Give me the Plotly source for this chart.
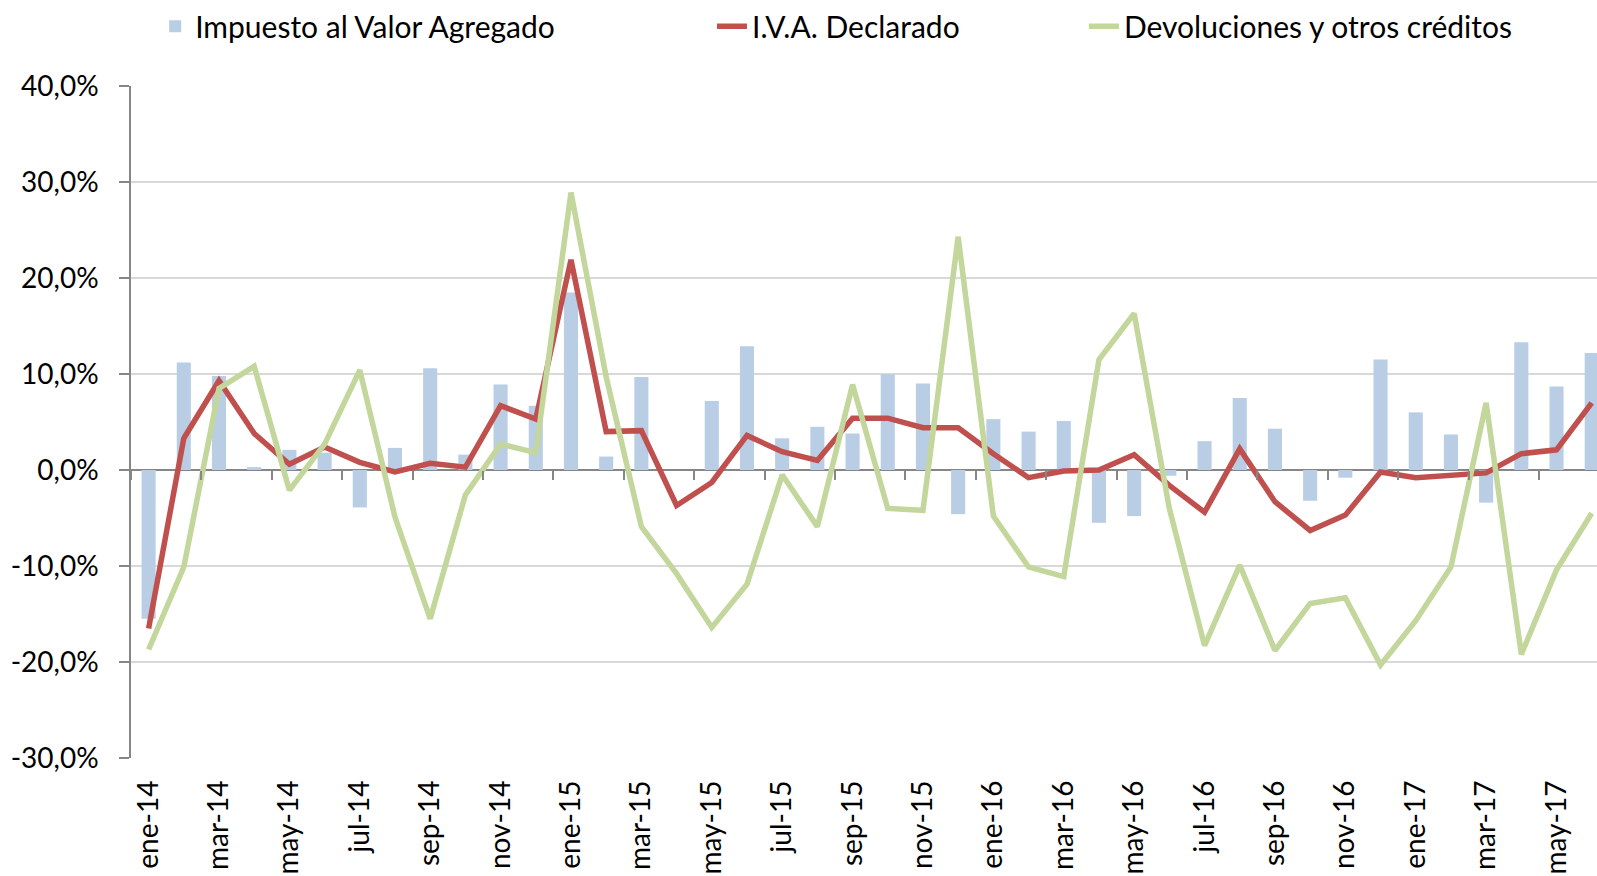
import plotly.graph_objects as go

meses = [
    "ene-14", "feb-14", "mar-14", "abr-14", "may-14", "jun-14", "jul-14", "ago-14", "sep-14", "oct-14", "nov-14", "dic-14",
    "ene-15", "feb-15", "mar-15", "abr-15", "may-15", "jun-15", "jul-15", "ago-15", "sep-15", "oct-15", "nov-15", "dic-15",
    "ene-16", "feb-16", "mar-16", "abr-16", "may-16", "jun-16", "jul-16", "ago-16", "sep-16", "oct-16", "nov-16", "dic-16",
    "ene-17", "feb-17", "mar-17", "abr-17", "may-17", "jun-17",
]

iva_total = [
    -15.5, 11.2, 9.8, 0.3, 2.1, 1.8, -3.9, 2.3, 10.6, 1.6, 8.9, 6.7,
    18.5, 1.4, 9.7, 0.0, 7.2, 12.9, 3.3, 4.5, 3.8, 10.0, 9.0, -4.6,
    5.3, 4.0, 5.1, -5.5, -4.8, -0.6, 3.0, 7.5, 4.3, -3.2, -0.8, 11.5,
    6.0, 3.7, -3.4, 13.3, 8.7, 12.2,
]

iva_declarado = [
    -16.5, 3.3, 9.3, 3.8, 0.6, 2.4, 0.8, -0.2, 0.7, 0.3, 6.7, 5.3,
    21.9, 4.0, 4.1, -3.7, -1.3, 3.6, 1.9, 1.0, 5.4, 5.4, 4.4, 4.4,
    1.7, -0.8, -0.1, 0.0, 1.6, -1.6, -4.4, 2.2, -3.3, -6.3, -4.7, -0.2,
    -0.8, -0.5, -0.3, 1.7, 2.1, 7.0,
]

devoluciones = [
    -18.7, -10.1, 8.5, 10.8, -2.1, 2.7, 10.4, -4.9, -15.5, -2.6, 2.7, 1.8,
    28.9, 9.7, -5.9, -10.8, -16.4, -11.9, -0.5, -5.9, 8.9, -4.0, -4.2, 24.3,
    -4.8, -10.1, -11.1, 11.5, 16.3, -4.0, -18.3, -9.9, -18.8, -13.9, -13.3, -20.3,
    -15.7, -10.1, 7.0, -19.2, -10.4, -4.5,
]

y_tick_vals = [-30, -20, -10, 0, 10, 20, 30, 40]
y_tick_text = ["-30,0%", "-20,0%", "-10,0%", "0,0%", "10,0%", "20,0%", "30,0%", "40,0%"]

FONT = "Lato, Carlito, Calibri, sans-serif"
GRAY = "#868686"

fig = go.Figure()

fig.add_trace(go.Bar(
    x=meses, y=iva_total, name="Impuesto al Valor Agregado",
    marker=dict(color="#B9CDE5", line=dict(width=0)),
    xaxis="x", yaxis="y", legend="legend", showlegend=True,
))
fig.add_trace(go.Scatter(
    x=meses, y=iva_declarado, name="I.V.A. Declarado", mode="lines",
    line=dict(color="#C0504D", width=5.5),
    xaxis="x2", yaxis="y", legend="legend2", showlegend=True,
))
fig.add_trace(go.Scatter(
    x=meses, y=devoluciones, name="Devoluciones y otros créditos", mode="lines",
    line=dict(color="#C3D69B", width=5.5),
    xaxis="x2", yaxis="y", legend="legend3", showlegend=True,
))

xrange = [-0.5, 41.15]
legend_common = dict(
    orientation="h", yanchor="middle", y=1.089, xanchor="left",
    font=dict(family=FONT, size=30, color="#000000"),
    bgcolor="rgba(0,0,0,0)",
)

fig.update_layout(
    width=1597, height=876,
    margin=dict(l=131, r=0, t=86, b=118, autoexpand=False),
    paper_bgcolor="white", plot_bgcolor="white",
    showlegend=True,
    font=dict(family=FONT, size=28, color="#000000"),
    bargap=0.6,
    xaxis=dict(
        type="category", categoryorder="array", categoryarray=meses,
        range=xrange, tickmode="linear", tick0=0, dtick=2,
        tickangle=-90, showgrid=False, showline=False, ticks="",
        ticklabelstandoff=16,
        tickfont=dict(family=FONT, size=28, color="#000000"),
    ),
    xaxis2=dict(
        type="category", categoryorder="array", categoryarray=meses,
        overlaying="x", matches="x", anchor="free", position=30 / 70,
        range=xrange, tickmode="linear", tick0=0, dtick=2,
        tickson="boundaries", ticks="outside", ticklen=9, tickwidth=1.5,
        tickcolor=GRAY, showticklabels=False, showgrid=False, showline=False,
    ),
    yaxis=dict(
        range=[-30, 40], tickmode="array", tickvals=y_tick_vals, ticktext=y_tick_text,
        showline=True, linecolor=GRAY, linewidth=1.5,
        ticks="outside", ticklen=10, tickwidth=1.5, tickcolor=GRAY,
        ticklabelstandoff=15,
        showgrid=True, gridcolor="#D9D9D9", gridwidth=1.5,
        zeroline=True, zerolinecolor=GRAY, zerolinewidth=1.5,
        tickfont=dict(family=FONT, size=28, color="#000000"),
    ),
    legend=dict(legend_common, x=0.0165),
    legend2=dict(legend_common, x=0.3963),
    legend3=dict(legend_common, x=0.650),
)

fig.write_html(
    "out.html",
    config={"displayModeBar": False},
    post_script="document.body.style.margin='0';document.body.style.overflow='hidden';",
)
